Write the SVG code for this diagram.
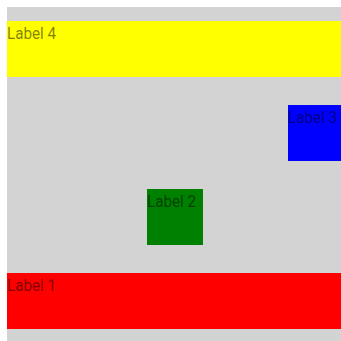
<svg xmlns="http://www.w3.org/2000/svg" width="341" height="341" viewBox="0 0 341 341">
<style>
.lbl{font-family:Roboto,"Liberation Sans",sans-serif;font-size:16px;fill:#000;fill-opacity:0.5}
</style>
<rect x="7" y="7" width="334" height="334" fill="#d3d3d3"/>
<g id="node4"><rect x="7" y="21" width="334" height="56" fill="#ffff00"/><text class="lbl" x="7" y="39" textLength="49" lengthAdjust="spacingAndGlyphs">Label 4</text></g>
<g id="node3"><rect x="288" y="105" width="56" height="56" fill="#0000ff"/><text class="lbl" x="288" y="123" textLength="49" lengthAdjust="spacingAndGlyphs">Label 3</text></g>
<g id="node2"><rect x="147" y="189" width="56" height="56" fill="#008000"/><text class="lbl" x="147" y="207" textLength="49" lengthAdjust="spacingAndGlyphs">Label 2</text></g>
<g id="node1"><rect x="7" y="273" width="334" height="56" fill="#ff0000"/><text class="lbl" x="7" y="291" textLength="49" lengthAdjust="spacingAndGlyphs">Label 1</text></g>
<g id="connectors"></g>
</svg>
